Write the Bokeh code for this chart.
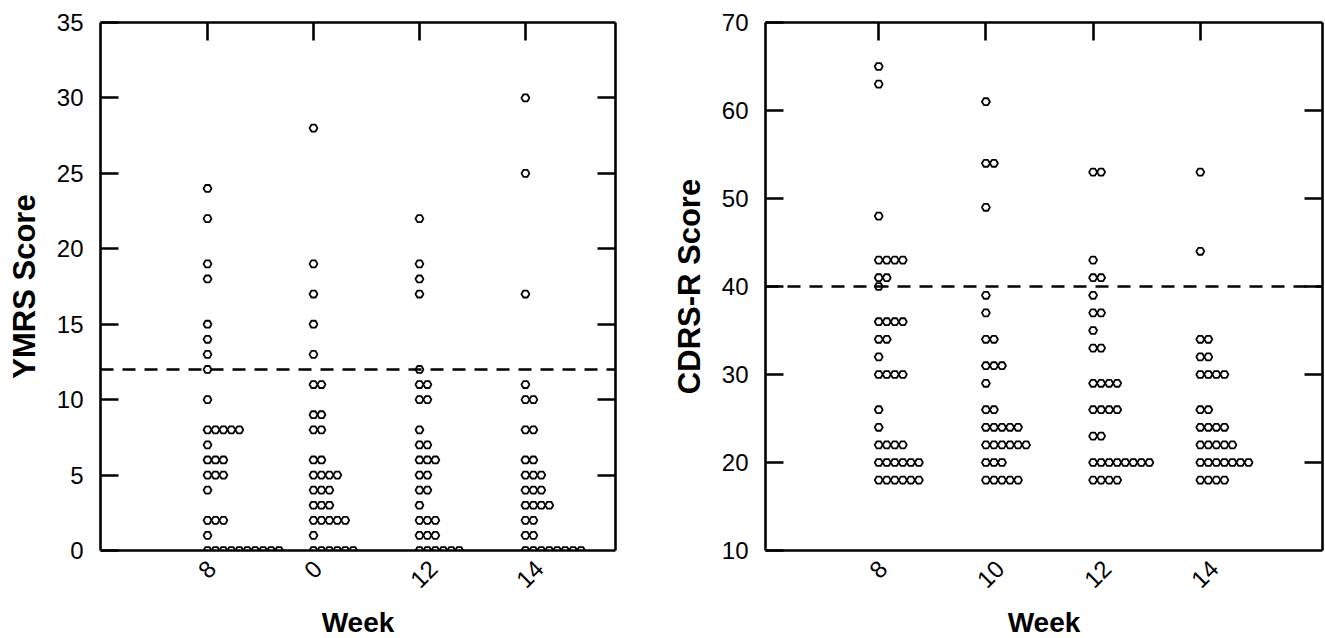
from bokeh.plotting import figure
from bokeh.models import Span, LinearAxis, FixedTicker, Range1d, ColumnDataSource
from bokeh.layouts import row
from bokeh.embed import file_html
from bokeh.resources import INLINE

# ---------------- DATA ----------------
left_week_labels = ["8", "0", "12", "14"]
right_week_labels = ["8", "10", "12", "14"]

# YMRS scores (left panel): score values and number of subjects at each value
ymrs_w1_scores = [24, 22, 19, 18, 15, 14, 13, 12, 10, 8, 7, 6, 5, 4, 2, 1, 0]
ymrs_w1_counts = [1, 1, 1, 1, 1, 1, 1, 1, 1, 5, 1, 3, 3, 1, 3, 1, 10]
ymrs_w2_scores = [28, 19, 17, 15, 13, 11, 9, 8, 6, 5, 4, 3, 2, 1, 0]
ymrs_w2_counts = [1, 1, 1, 1, 1, 2, 2, 2, 2, 4, 3, 3, 5, 1, 6]
ymrs_w3_scores = [22, 19, 18, 17, 12, 11, 10, 8, 7, 6, 5, 4, 3, 2, 1, 0]
ymrs_w3_counts = [1, 1, 1, 1, 1, 2, 2, 1, 2, 3, 2, 2, 1, 3, 3, 6]
ymrs_w4_scores = [30, 25, 17, 11, 10, 8, 6, 5, 4, 3, 2, 1, 0]
ymrs_w4_counts = [1, 1, 1, 1, 2, 2, 2, 3, 3, 4, 2, 2, 8]
ymrs_ticks = [0, 5, 10, 15, 20, 25, 30, 35]
ymrs_cutoff = 12

# CDRS-R scores (right panel)
cdrs_w1_scores = [65, 63, 48, 43, 41, 40, 36, 34, 32, 30, 26, 24, 22, 20, 18]
cdrs_w1_counts = [1, 1, 1, 4, 2, 1, 4, 2, 1, 4, 1, 1, 4, 6, 6]
cdrs_w2_scores = [61, 54, 49, 39, 37, 34, 31, 29, 26, 24, 22, 20, 18]
cdrs_w2_counts = [1, 2, 1, 1, 1, 2, 3, 1, 2, 5, 6, 3, 5]
cdrs_w3_scores = [53, 43, 41, 39, 37, 35, 33, 29, 26, 23, 20, 18]
cdrs_w3_counts = [2, 1, 2, 1, 2, 1, 2, 4, 4, 2, 8, 4]
cdrs_w4_scores = [53, 44, 34, 32, 30, 26, 24, 22, 20, 18]
cdrs_w4_counts = [1, 1, 2, 2, 4, 2, 4, 5, 7, 4]
cdrs_ticks = [10, 20, 30, 40, 50, 60, 70]
cdrs_cutoff = 40

FONT = "Liberation Sans"
CAT = [100, 200, 300, 400]   # x position of each week column
STEP = 7.5                  # horizontal spacing of tied points


def dot_source(groups):
    xs, ys = [], []
    for cx, (scores, counts) in zip(CAT, groups):
        for s, c in zip(scores, counts):
            for k in range(c):
                xs.append(cx + k * STEP)
                ys.append(s)
    return ColumnDataSource(dict(x=xs, y=ys))


def make_panel(groups, labels, yticks, cutoff, ylabel, x_range,
               frame_w, border_left, border_right):
    p = figure(frame_width=frame_w, frame_height=528, output_backend="svg",
               toolbar_location=None,
               x_range=Range1d(*x_range), y_range=Range1d(yticks[0], yticks[-1]),
               min_border_left=border_left, min_border_right=border_right,
               min_border_top=22, min_border_bottom=86,
               x_axis_location=None, y_axis_location=None)
    p.outline_line_color = None
    p.xgrid.visible = False
    p.ygrid.visible = False

    lw = 2.6
    # left axis with labels
    yl = LinearAxis(ticker=FixedTicker(ticks=yticks))
    yl.axis_label = ylabel
    yl.axis_label_text_font = FONT
    yl.axis_label_text_font_style = "bold"
    yl.axis_label_text_font_size = "31px"
    yl.axis_label_text_color = "black"
    yl.axis_label_standoff = 12
    yl.major_label_text_font = FONT
    yl.major_label_text_font_size = "24px"
    yl.major_label_text_color = "black"
    yl.major_label_standoff = 17
    yl.major_tick_in = 18
    yl.major_tick_out = 0
    yl.minor_tick_in = 0
    yl.minor_tick_out = 0
    yl.axis_line_width = lw
    yl.major_tick_line_width = lw
    p.add_layout(yl, "left")

    # right axis: inward ticks only (drawn as minor ticks, no labels)
    yr = LinearAxis(ticker=FixedTicker(ticks=[], minor_ticks=yticks[1:-1]))
    yr.minor_tick_in = 18
    yr.minor_tick_out = 0
    yr.major_tick_in = 0
    yr.major_tick_out = 0
    yr.minor_tick_line_width = lw
    yr.axis_line_width = lw
    p.add_layout(yr, "right")

    # top axis: inward ticks at each week
    xt = LinearAxis(ticker=FixedTicker(ticks=[], minor_ticks=CAT))
    xt.minor_tick_in = 18
    xt.minor_tick_out = 0
    xt.major_tick_in = 0
    xt.major_tick_out = 0
    xt.minor_tick_line_width = lw
    xt.axis_line_width = lw
    p.add_layout(xt, "above")

    # bottom axis: rotated week labels (anchored so they sit centred under
    # each column) + title
    label_pos = [c + 4 + 9 * (len(lab) - 1) for c, lab in zip(CAT, labels)]
    xb = LinearAxis(ticker=FixedTicker(ticks=label_pos))
    xb.major_label_overrides = {pos: lab for pos, lab in zip(label_pos, labels)}
    xb.major_label_orientation = 0.785398
    xb.major_label_text_font = FONT
    xb.major_label_text_font_size = "24px"
    xb.major_label_text_color = "black"
    xb.major_label_standoff = 14
    xb.major_tick_in = 0
    xb.major_tick_out = 0
    xb.minor_tick_in = 0
    xb.minor_tick_out = 0
    xb.axis_line_width = lw
    xb.axis_label = "Week"
    xb.axis_label_text_font = FONT
    xb.axis_label_text_font_style = "bold"
    xb.axis_label_text_font_size = "28px"
    xb.axis_label_text_color = "black"
    xb.axis_label_standoff = 9
    p.add_layout(xb, "below")

    p.add_layout(Span(location=cutoff, dimension="width", line_color="black",
                      line_width=2.6, line_dash="13 9"))

    p.scatter("x", "y", source=dot_source(groups), marker="hex", size=8,
              fill_color="white", line_color="black", line_width=1.8)
    return p


left = make_panel(
    [(ymrs_w1_scores, ymrs_w1_counts), (ymrs_w2_scores, ymrs_w2_counts),
     (ymrs_w3_scores, ymrs_w3_counts), (ymrs_w4_scores, ymrs_w4_counts)],
    left_week_labels, ymrs_ticks, ymrs_cutoff, "YMRS Score", (-1, 485),
    515, 100, 30)

right = make_panel(
    [(cdrs_w1_scores, cdrs_w1_counts), (cdrs_w2_scores, cdrs_w2_counts),
     (cdrs_w3_scores, cdrs_w3_counts), (cdrs_w4_scores, cdrs_w4_counts)],
    right_week_labels, cdrs_ticks, cdrs_cutoff, "CDRS-R Score", (-5.6, 514),
    557, 120, 3)

layout = row(left, right)
open("out.html", "w").write(file_html(layout, INLINE))
